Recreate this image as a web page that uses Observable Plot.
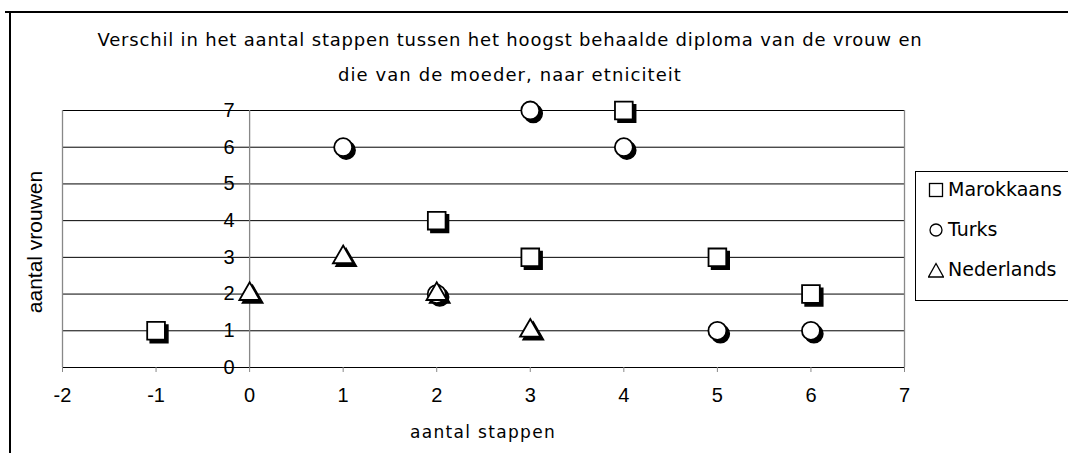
<!DOCTYPE html>
<html><head><meta charset="utf-8">
<script src="https://cdn.jsdelivr.net/npm/d3@7"></script>
<script src="https://cdn.jsdelivr.net/npm/@observablehq/plot@0.6"></script>
<style>
html,body{margin:0;padding:0;background:#fff;}
#wrap{position:relative;width:1068px;height:453px;overflow:hidden;font-family:"DejaVu Sans",sans-serif;}
#wrap > svg{position:absolute;left:0;top:0;max-width:none !important;}
#wrap > svg text{font-size:20px !important;font-family:"Liberation Sans",Arial,sans-serif !important;}
.title{position:absolute;font-size:18px;color:#000;white-space:nowrap;line-height:1;transform:translateX(-50%);}
.frameTop{position:absolute;left:5px;top:11px;width:1070px;height:2px;background:#000;}
.frameLeft{position:absolute;left:9px;top:11px;width:2px;height:450px;background:#000;}
.legend{position:absolute;left:915px;top:171px;width:170px;height:128px;border:1px solid #000;background:#fff;}
.item{position:absolute;left:12px;font-size:19px;white-space:nowrap;display:flex;align-items:center;line-height:1;}
.item svg{display:block;margin-right:4px;}
.ylab{position:absolute;left:35px;top:242px;transform:translate(-50%,-50%) rotate(-90deg);font-family:"Liberation Sans",Arial,sans-serif;font-size:21px;white-space:nowrap;}
.xlab{position:absolute;left:483px;top:432px;transform:translate(-50%,-50%);font-size:17px;white-space:nowrap;}
</style></head>
<body>
<div id="wrap"></div>
<script>
const titleLines = ["Verschil in het aantal stappen tussen het hoogst behaalde diploma van de vrouw en", "die van de moeder, naar etniciteit"];
const xLabel = "aantal stappen";
const yLabel = "aantal vrouwen";
const xTicks = [-2, -1, 0, 1, 2, 3, 4, 5, 6, 7];
const yTicks = [0, 1, 2, 3, 4, 5, 6, 7];
const seriesNames = ["Marokkaans", "Turks", "Nederlands"];
const seriesSymbols = ["square", "circle", "triangle"];
const marokkaansX = [-1, 2, 3, 4, 5, 6];
const marokkaansY = [1, 4, 3, 7, 3, 2];
const turksX = [1, 2, 3, 4, 5, 6];
const turksY = [6, 2, 7, 6, 1, 1];
const nederlandsX = [0, 1, 2, 3];
const nederlandsY = [2, 3, 2, 1];

const seriesData = [
  marokkaansX.map((x, i) => ({x, y: marokkaansY[i]})),
  turksX.map((x, i) => ({x, y: turksY[i]})),
  nederlandsX.map((x, i) => ({x, y: nederlandsY[i]}))
];
const symR = {square: 10, circle: 9, triangle: 7.6};

const marks = [
  Plot.ruleY(yTicks, {y: d => d, stroke: "#000", strokeWidth: 1}),
  Plot.ruleX([-2, 0, 7], {x: d => d, stroke: "#888", strokeWidth: 1.3, y1: 0, y2: 7}),
  Plot.axisX({ticks: xTicks, tickSize: 5, tickPadding: 15, stroke: "#888", fontSize: 20, tickFormat: d => String(d), label: null, fill: "#000"}),
  Plot.text(yTicks, {x: 0, y: d => d, text: d => String(d), dx: -15, textAnchor: "end", fontSize: 20})
];
seriesData.forEach((data, i) => {
  const s = seriesSymbols[i];
  marks.push(Plot.dot(data, {x: "x", y: "y", symbol: () => s, r: symR[s], fill: "#000", stroke: "#000", strokeWidth: 1.5, dx: 3, dy: 3}));
});
seriesData.forEach((data, i) => {
  const s = seriesSymbols[i];
  marks.push(Plot.dot(data, {x: "x", y: "y", symbol: () => s, r: symR[s], fill: "#fff", stroke: "#000", strokeWidth: 1.8}));
});

const chart = Plot.plot({
  width: 1068, height: 453,
  marginLeft: 62, marginRight: 164, marginTop: 110, marginBottom: 86,
  style: {background: "transparent", fontFamily: "Liberation Sans, Arial, sans-serif", overflow: "visible"},
  x: {domain: [-2, 7], axis: null},
  y: {domain: [0, 7], axis: null},
  symbol: {type: "identity"},
  marks
});
const wrap = document.getElementById("wrap");
wrap.appendChild(chart);

const add = (cls, html, style) => { const d = document.createElement("div"); d.className = cls; if (html) d.textContent = html; if (style) Object.assign(d.style, style); wrap.appendChild(d); return d; };
add("frameTop"); add("frameLeft");
const fitWidth = (el, target) => {
  const w = el.getBoundingClientRect().width;
  const n = el.textContent.length;
  el.style.letterSpacing = ((target - w) / n) + "px";
};
const t1 = add("title", titleLines[0], {top: "31px", left: "510px"});
const t2 = add("title", titleLines[1], {top: "66px", left: "510px"});
fitWidth(t1, 825); fitWidth(t2, 344);
add("ylab", yLabel);
const xl = add("xlab", xLabel);
fitWidth(xl, 146);
const leg = add("legend");
const legSym = {
  square: '<rect x="1.5" y="1.5" width="13" height="13" fill="#fff" stroke="#000" stroke-width="1.3"/>',
  circle: '<circle cx="8" cy="8" r="6" fill="#fff" stroke="#000" stroke-width="1.3"/>',
  triangle: '<path d="M8 1.5 L15.5 15 L0.5 15 Z" fill="#fff" stroke="#000" stroke-width="1.3"/>'
};
seriesNames.forEach((n, i) => {
  const it = document.createElement("div");
  it.className = "item";
  it.style.top = (8 + i * 40) + "px";
  it.innerHTML = '<svg width="16" height="16">' + legSym[seriesSymbols[i]] + '</svg><span>' + n + '</span>';
  leg.appendChild(it);
});
</script>
</body></html>
